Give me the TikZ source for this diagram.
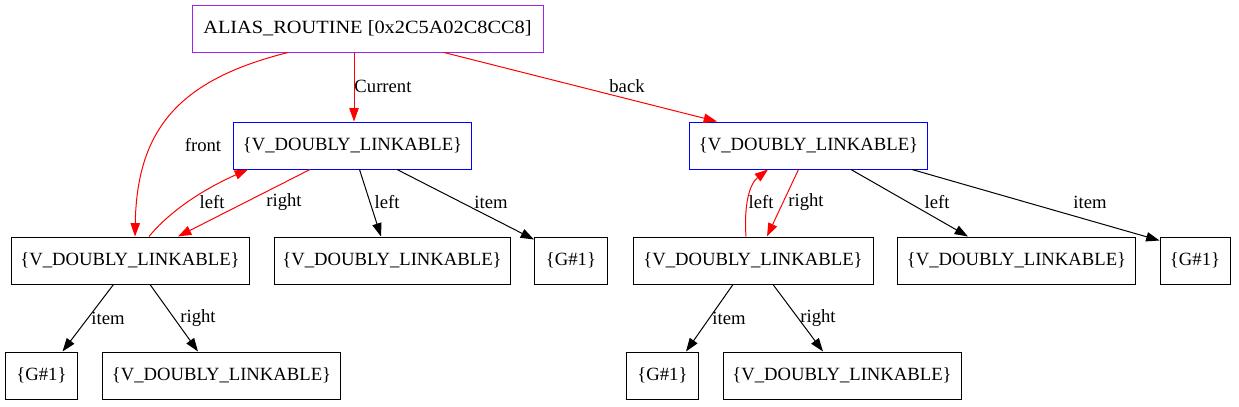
\documentclass[tikz,border=0pt]{standalone}
\usepackage{fontspec}
\setmainfont{Liberation Serif}
\usetikzlibrary{arrows.meta,calc}
\definecolor{gvpurple}{RGB}{160,32,240}
\begin{document}
\begin{tikzpicture}[x=0.75pt,y=-0.75pt,
  box/.style={draw, line width=0.75pt, minimum height=35.25pt, inner sep=0pt, font=\fontsize{14pt}{16pt}\selectfont},
  bluebox/.style={box, draw=blue},
  lbl/.style={font=\fontsize{14pt}{16pt}\selectfont, inner sep=0pt},
  edge/.style={line width=0.75pt, -{Triangle[length=10pt,width=7pt]}},
  redge/.style={edge, draw=red}]
\useasboundingbox (0,0) rectangle (1239,407);

\node[box, draw=gvpurple, minimum width=263.25pt] (root) at (367.5,28.5) {\scalebox{1.09}[1]{ALIAS\_ROUTINE [0x2C5A02C8CC8]}};
\node[bluebox, minimum width=178.5pt] (A) at (352.5,145.5) {\{V\_DOUBLY\_LINKABLE\}};
\node[bluebox, minimum width=178.5pt] (B) at (808.5,145.5) {\{V\_DOUBLY\_LINKABLE\}};
\node[box, minimum width=178.5pt] (C) at (130,260.5) {\{V\_DOUBLY\_LINKABLE\}};
\node[box, minimum width=177pt] (D) at (392,260.5) {\{V\_DOUBLY\_LINKABLE\}};
\node[box, minimum width=54.75pt] (E) at (571,260.5) {\{G\#1\}};
\node[box, minimum width=180pt] (F) at (753,260.5) {\{V\_DOUBLY\_LINKABLE\}};
\node[box, minimum width=178.5pt] (G) at (1016.5,260.5) {\{V\_DOUBLY\_LINKABLE\}};
\node[box, minimum width=52.5pt] (H) at (1195,260.5) {\{G\#1\}};
\node[box, minimum width=54pt] (I) at (41.5,375.5) {\{G\#1\}};
\node[box, minimum width=178.5pt] (J) at (221.5,375.5) {\{V\_DOUBLY\_LINKABLE\}};
\node[box, minimum width=54pt] (K) at (662.5,375.5) {\{G\#1\}};
\node[box, minimum width=178.5pt] (L) at (842,375.5) {\{V\_DOUBLY\_LINKABLE\}};

% root edges
\draw[redge] ($(root.south)+(-79.5,0)$) .. controls (178,80) and (137,130) .. ($(C.north)+(5,0)$);
\draw[redge] ($(root.south)+(-13.5,0)$) -- ($(A.north)+(1.5,0)$);
\draw[redge] ($(root.south)+(76.5,0)$) -- ($(B.north)+(-91.5,0)$);
\node[lbl] (lfront) at (203,145) {front};
\node[lbl] (lcur) at (383,86) {Current};
\node[lbl] (lback) at (627,86) {back};

% A edges
\draw[redge] ($(A.south)+(-42.5,0)$) -- ($(C.north)+(48,0)$);
\draw[redge] ($(C.north)+(19,0)$) .. controls (175,205) and (215,184) .. ($(A.south)+(-104.5,0)$);
\draw[edge] ($(A.south)+(7,0)$) -- ($(D.north)+(-11,0)$);
\draw[edge] ($(A.south)+(44.5,0)$) -- ($(E.north west)+(0,3)$);
\node[lbl] (lAl) at (212,202) {left};
\node[lbl] (lAr) at (284,202) {right};
\node[lbl] (lAD) at (387,202) {left};
\node[lbl] (lAE) at (491,202) {item};

% B edges
\draw[redge] ($(B.south)+(-10,0)$) -- ($(F.north)+(14,0)$);
\draw[redge] ($(F.north)+(-7,0)$) .. controls (744,210) and (748,185) .. ($(B.south)+(-40.5,0)$);
\draw[edge] ($(B.south)+(42.5,0)$) -- ($(G.north)+(-48.5,0)$);
\draw[edge] ($(B.south)+(103.5,0)$) -- ($(H.north west)+(0,4)$);
\node[lbl] (lBl) at (761,202) {left};
\node[lbl] (lBr) at (806,202) {right};
\node[lbl] (lBG) at (937,202) {left};
\node[lbl] (lBH) at (1090,202) {item};

% bottom edges
\draw[edge] ($(C.south)+(-16.5,0)$) -- ($(I.north)+(21,0)$);
\draw[edge] ($(C.south)+(20,0)$) -- ($(J.north)+(-23.5,0)$);
\draw[edge] ($(F.south)+(-20,0)$) -- ($(K.north)+(23.5,0)$);
\draw[edge] ($(F.south)+(20,0)$) -- ($(L.north)+(-19,0)$);
\node[lbl] (lCI) at (108,318) {item};
\node[lbl] (lCJ) at (198,318) {right};
\node[lbl] (lFK) at (729,318) {item};
\node[lbl] (lFL) at (818,318) {right};
\end{tikzpicture}
\end{document}
